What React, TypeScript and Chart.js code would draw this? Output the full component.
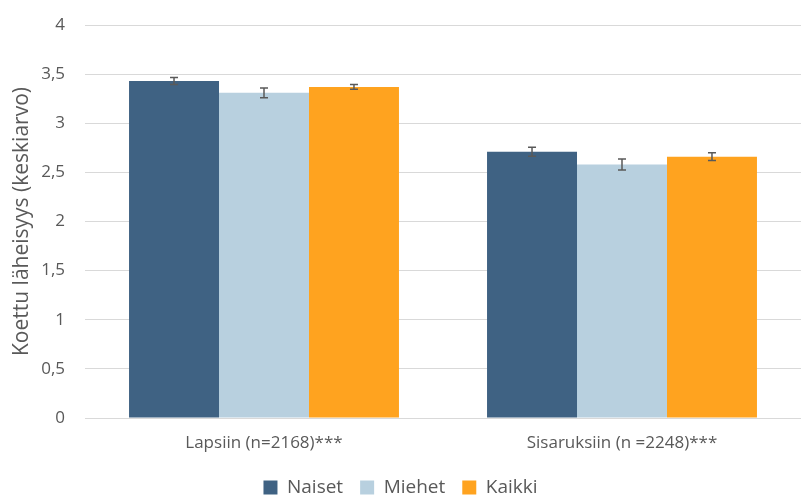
import React, { useEffect, useRef } from "react";
import { Chart, registerables } from "chart.js";

Chart.register(...registerables);

const categories = ["Lapsiin (n=2168)***", "Sisaruksiin (n =2248)***"];
const seriesNames = ["Naiset", "Miehet", "Kaikki"];
const naiset = [3.43, 2.71];
const miehet = [3.31, 2.58];
const kaikki = [3.37, 2.66];
const naisetErr = [0.035, 0.045];
const miehetErr = [0.05, 0.055];
const kaikkiErr = [0.025, 0.04];
const colors = ["#3F6283", "#B8D0DF", "#FFA31F"];

const errorBarPlugin = {
  id: "errorBars",
  afterDatasetsDraw(chart: any) {
    const ctx = chart.ctx;
    const y = chart.scales.y;
    ctx.save();
    ctx.strokeStyle = "#595959";
    ctx.lineWidth = 1.5;
    chart.data.datasets.forEach((ds: any, i: number) => {
      const meta = chart.getDatasetMeta(i);
      meta.data.forEach((bar: any, j: number) => {
        const v = ds.data[j];
        const e = ds.errors[j];
        const x = bar.x;
        const yTop = y.getPixelForValue(v + e);
        const yBot = y.getPixelForValue(v - e);
        ctx.beginPath();
        ctx.moveTo(x, yTop);
        ctx.lineTo(x, yBot);
        ctx.moveTo(x - 4, yTop);
        ctx.lineTo(x + 4, yTop);
        ctx.moveTo(x - 4, yBot);
        ctx.lineTo(x + 4, yBot);
        ctx.stroke();
      });
    });
    ctx.restore();
  },
};

const legendHeightPlugin = {
  id: "legendHeight",
  beforeLayout(chart: any) {
    const lg = chart.legend;
    if (lg && !lg._patched) {
      const orig = lg.fit.bind(lg);
      lg.fit = function () {
        orig();
        this.height = 35;
      };
      lg._patched = true;
    }
  },
};

export default function App() {
  const ref = useRef<HTMLCanvasElement>(null);
  useEffect(() => {
    document.body.style.margin = "0";
    const font = "'Open Sans', 'Noto Sans', sans-serif";
    const chart = new Chart(ref.current!, {
      type: "bar",
      data: {
        labels: categories,
        datasets: [
          { label: seriesNames[0], data: naiset, errors: naisetErr, backgroundColor: colors[0] } as any,
          { label: seriesNames[1], data: miehet, errors: miehetErr, backgroundColor: colors[1] } as any,
          { label: seriesNames[2], data: kaikki, errors: kaikkiErr, backgroundColor: colors[2] } as any,
        ],
      },
      options: {
        responsive: false,
        animation: false,
        layout: { padding: { top: 25, right: 0, left: 0, bottom: 0 } },
        datasets: { bar: { barPercentage: 1, categoryPercentage: 0.754 } },
        scales: {
          x: {
            grid: { display: false },
            border: { color: "#D9D9D9" },
            ticks: { color: "#595959", font: { family: font, size: 17 }, padding: 7 },
            afterFit: (s: any) => { s.height = 43; },
          },
          y: {
            min: 0,
            max: 4,
            ticks: {
              stepSize: 0.5,
              color: "#595959",
              font: { family: font, size: 17 },
              padding: 20,
              callback: (v: any) => String(v).replace(".", ","),
            },
            grid: { color: "#D9D9D9", drawTicks: false },
            border: { display: false },
            title: {
              display: true,
              text: "Koettu läheisyys (keskiarvo)",
              color: "#595959",
              font: { family: font, size: 21 },
              padding: { top: 9, bottom: 0 },
            },
            afterFit: (s: any) => {
              s.width = 85;
              s.paddingTop = 0;
              s.paddingBottom = 0;
            },
          },
        },
        plugins: {
          legend: {
            position: "bottom",
            labels: {
              boxWidth: 14,
              boxHeight: 14,
              color: "#595959",
              font: { family: font, size: 19 },
              padding: 17,
            },
          },
          tooltip: { enabled: false },
        },
      },
      plugins: [errorBarPlugin, legendHeightPlugin],
    });
    return () => chart.destroy();
  }, []);
  return (
    <div style={{ position: "absolute", left: 0, top: 0, width: 801, height: 496, background: "#fff" }}>
      <canvas ref={ref} width={801} height={496} />
    </div>
  );
}
